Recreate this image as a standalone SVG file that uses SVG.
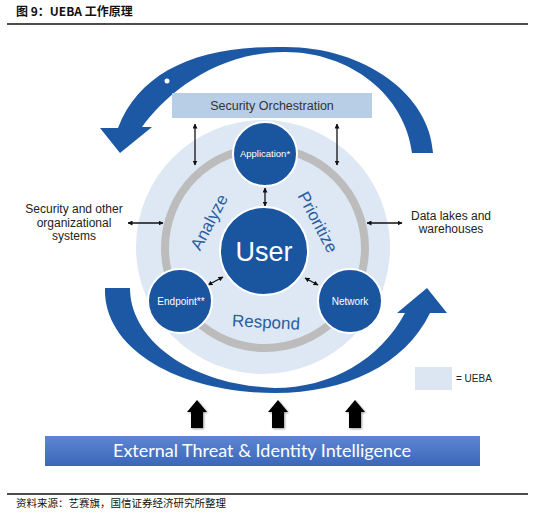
<svg xmlns="http://www.w3.org/2000/svg" width="535" height="518" viewBox="0 0 535 518">
<defs>
<style>
.cjk{font-family:"Noto Sans CJK SC","Noto Sans",sans-serif;}
.sans{font-family:"Liberation Sans",Arial,sans-serif;}
.node{fill:#1a55a0;stroke:#ffffff;stroke-width:2;}
.ntxt{font-family:"Liberation Sans",Arial,sans-serif;fill:#ffffff;text-anchor:middle;}
.side{font-family:"Liberation Sans",Arial,sans-serif;font-size:12px;fill:#222;text-anchor:middle;}
.phase{font-family:"Liberation Sans",Arial,sans-serif;font-size:17px;fill:#2a5d9f;text-anchor:middle;}
.dbl{stroke:#111;stroke-width:1.3;fill:none;marker-start:url(#ah);marker-end:url(#ah);}
.big{fill:#1c58a4;}
.up{fill:#000;}
</style>
<marker id="ah" viewBox="0 0 10 10" refX="9" refY="5" markerWidth="5" markerHeight="5" orient="auto-start-reverse" markerUnits="userSpaceOnUse">
<path d="M0,0 L10,5 L0,10 Z" fill="#111"/>
</marker>
<linearGradient id="barg" x1="0" y1="0" x2="0" y2="1">
<stop offset="0" stop-color="#5d86d2"/>
<stop offset="1" stop-color="#3b67ba"/>
</linearGradient>
<filter id="sh" x="-30%" y="-30%" width="160%" height="160%">
<feGaussianBlur in="SourceAlpha" stdDeviation="1"/>
<feOffset dx="1" dy="1"/>
<feComponentTransfer><feFuncA type="linear" slope="0.4"/></feComponentTransfer>
<feMerge><feMergeNode/><feMergeNode in="SourceGraphic"/></feMerge>
</filter>
</defs>
<rect width="535" height="518" fill="#ffffff"/>

<g id="title">
<text x="16" y="16" class="cjk" font-size="12" font-weight="bold" fill="#111">图 9：UEBA 工作原理</text>
<line x1="7" y1="24" x2="528" y2="24" stroke="#111" stroke-width="1.5"/>
</g>

<g id="cycle-arrows">
<path class="big" d="M433,153 C430,95 365,47 285,47 C200,45 140,70 118,128 L100,128 L120,153 L152,127 L142,127 C165,95 215,52 285,52 C350,52 405,95 412,153 Z"/>
<circle cx="167" cy="81" r="2.5" fill="#ffffff"/>
<path class="big" d="M105,288 L130,288 C130,340 190,385 275,388 C330,388 380,360 405,313 L397,313 L427,288 L447,313 L430,313 C405,365 345,393 275,393 C180,393 103,350 105,288 Z"/>
</g>

<g id="ueba-area">
<circle cx="263" cy="247" r="127" fill="#dde8f4"/>
<circle cx="265" cy="248" r="100" fill="none" stroke="#bcbcbc" stroke-width="8"/>
</g>

<g id="security-orchestration">
<rect x="172" y="93" width="200" height="25" fill="#b8cde6"/>
<text x="272" y="110" class="sans" font-size="12.5" fill="#333" text-anchor="middle">Security Orchestration</text>
</g>

<g id="connectors">
<line class="dbl" x1="195" y1="124" x2="195" y2="165"/>
<line class="dbl" x1="337" y1="124" x2="337" y2="165"/>
<line class="dbl" x1="265" y1="188" x2="265" y2="206"/>
<line class="dbl" x1="128" y1="223" x2="163" y2="223"/>
<line class="dbl" x1="367" y1="223" x2="402" y2="223"/>
<line class="dbl" x1="208" y1="285" x2="223" y2="277"/>
<line class="dbl" x1="305" y1="278" x2="318" y2="285"/>
</g>

<g id="phases">
<text class="phase" transform="translate(209,222) rotate(-62)" y="6">Analyze</text>
<text class="phase" transform="translate(318,222) rotate(62)" y="6">Prioritize</text>
<text class="phase" transform="translate(266,322) rotate(3)" y="6">Respond</text>
</g>

<g id="user">
<circle class="node" cx="264" cy="251" r="44"/>
<text class="ntxt" x="264" y="261" font-size="27">User</text>
</g>
<g id="application">
<circle class="node" cx="265" cy="154" r="32"/>
<text class="ntxt" x="265" y="157" font-size="9.5">Application*</text>
</g>
<g id="endpoint">
<circle class="node" cx="180" cy="301" r="32"/>
<text class="ntxt" x="181" y="305" font-size="10">Endpoint**</text>
</g>
<g id="network">
<circle class="node" cx="350" cy="301" r="32"/>
<text class="ntxt" x="350" y="305" font-size="10">Network</text>
</g>

<g id="security-systems">
<text class="side" x="74" y="213">Security and other</text>
<text class="side" x="74" y="227">organizational</text>
<text class="side" x="74" y="240">systems</text>
</g>
<g id="data-lakes">
<text class="side" x="451" y="220">Data lakes and</text>
<text class="side" x="451" y="233">warehouses</text>
</g>

<g id="legend">
<rect x="415" y="367" width="37" height="23" fill="#dce6f2"/>
<text x="456" y="382" class="sans" font-size="10" fill="#222">= UEBA</text>
</g>

<g id="up-arrows" filter="url(#sh)">
<path class="up" d="M197,400 L207,412 L203,412 L203,428 L191,428 L191,412 L187,412 Z"/>
<path class="up" d="M278,400 L288,412 L284,412 L284,428 L272,428 L272,412 L268,412 Z"/>
<path class="up" d="M355,400 L365,412 L361,412 L361,428 L349,428 L349,412 L345,412 Z"/>
</g>

<g id="external-intel">
<rect x="45" y="436" width="435" height="30" fill="url(#barg)"/>
<text x="262" y="457" font-family="Lato,'Open Sans',sans-serif" font-size="18" fill="#ffffff" text-anchor="middle" textLength="298" lengthAdjust="spacingAndGlyphs">External Threat &amp; Identity Intelligence</text>
</g>

<g id="source">
<line x1="7" y1="494" x2="528" y2="494" stroke="#111" stroke-width="1.5"/>
<text x="16" y="507" class="cjk" font-size="10.5" fill="#111">资料来源：艺赛旗，国信证券经济研究所整理</text>
</g>
</svg>
